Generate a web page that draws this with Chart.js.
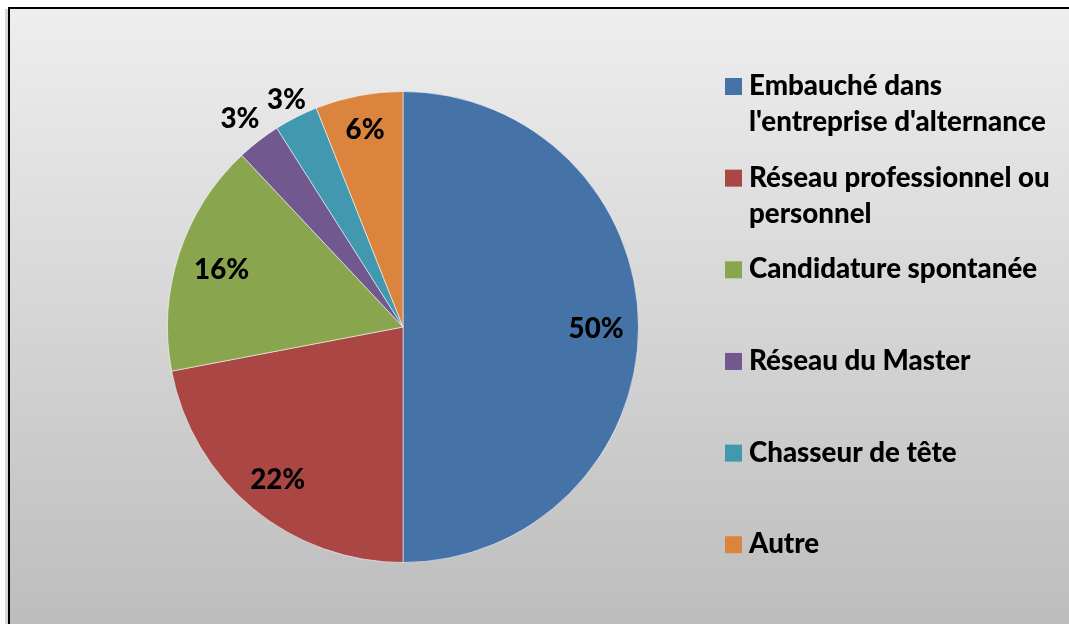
<!DOCTYPE html>
<html>
<head>
<meta charset="utf-8">
<script src="https://cdn.jsdelivr.net/npm/chart.js@4/dist/chart.umd.min.js"></script>
<style>
  html, body { margin: 0; padding: 0; background: #ffffff; }
  #wrap { width: 1069px; height: 624px; position: relative; }
</style>
</head>
<body>
<div id="wrap"><canvas id="c"></canvas></div>
<script>
// ---- data ----
const categories = [
  ["Embauché dans", "l'entreprise d'alternance"],
  ["Réseau professionnel ou", "personnel"],
  ["Candidature spontanée"],
  ["Réseau du Master"],
  ["Chasseur de tête"],
  ["Autre"]
];
const values = [50, 22, 16, 3, 3, 6];
const colors = ["#4572A7", "#AA4643", "#89A54E", "#71588F", "#4198AF", "#DB843D"];

const FONT_FAMILY = "Lato, 'Open Sans', sans-serif";
const FONT_WEIGHT = "900";
const TARGET_W = 297; // width of the longest legend line in the reference

function fitSize(ctx) {
  ctx.font = FONT_WEIGHT + " 100px " + FONT_FAMILY;
  const w = ctx.measureText("l'entreprise d'alternance").width;
  return 100 * TARGET_W / w;
}

const backgroundPlugin = {
  id: 'bgFrame',
  beforeDraw(chart) {
    const ctx = chart.ctx;
    const W = chart.width, H = chart.height;
    ctx.save();
    ctx.fillStyle = '#ffffff';
    ctx.fillRect(0, 0, W, H);
    ctx.fillStyle = '#d8d8d8';
    ctx.fillRect(5, 9, 3, H - 9);
    const g = ctx.createLinearGradient(0, 9, 0, H);
    g.addColorStop(0, '#eeeeee');
    g.addColorStop(1, '#bdbdbd');
    ctx.fillStyle = g;
    ctx.fillRect(10, 9, W - 10, H - 9);
    ctx.fillStyle = '#000000';
    ctx.fillRect(8, 7, 2, H - 7);
    ctx.fillRect(8, 7, W - 8, 2);
    ctx.restore();
  }
};

const labelFactors = [0.82, 0.835, 0.81, 1.13, 1.09, 0.86];

const labelsPlugin = {
  id: 'pieLabels',
  afterDatasetsDraw(chart) {
    const ctx = chart.ctx;
    const size = fitSize(ctx);
    const meta = chart.getDatasetMeta(0);
    ctx.save();
    ctx.font = FONT_WEIGHT + " " + size.toFixed(2) + "px " + FONT_FAMILY;
    ctx.fillStyle = '#000000';
    ctx.textAlign = 'center';
    ctx.textBaseline = 'middle';
    meta.data.forEach((arc, i) => {
      const p = arc.getProps(['x', 'y', 'startAngle', 'endAngle', 'outerRadius'], true);
      const mid = (p.startAngle + p.endAngle) / 2;
      const r = p.outerRadius * labelFactors[i];
      const x = p.x + Math.cos(mid) * r;
      const y = p.y + Math.sin(mid) * r + 2;
      ctx.fillText(values[i] + '%', x, y);
    });
    ctx.restore();
  }
};

const legendPlugin = {
  id: 'customLegend',
  afterDraw(chart) {
    const ctx = chart.ctx;
    const size = fitSize(ctx);
    ctx.save();
    ctx.font = FONT_WEIGHT + " " + size.toFixed(2) + "px " + FONT_FAMILY;
    ctx.textAlign = 'left';
    ctx.textBaseline = 'alphabetic';
    const boxX = 725, boxS = 17, textX = 749;
    const firstBase = 95, step = 91.65, lineH = 36;
    categories.forEach((lines, i) => {
      const base = firstBase + i * step;
      ctx.fillStyle = colors[i];
      ctx.fillRect(boxX, base - boxS, boxS, boxS);
      ctx.fillStyle = '#000000';
      lines.forEach((t, j) => ctx.fillText(t, textX, base + j * lineH));
    });
    ctx.restore();
  }
};

new Chart(document.getElementById('c'), {
  type: 'pie',
  data: {
    labels: categories.map(l => l.join(' ')),
    datasets: [{
      data: values,
      backgroundColor: colors,
      borderColor: 'rgba(255,255,255,0.55)',
      borderWidth: 1
    }]
  },
  options: {
    responsive: true,
    maintainAspectRatio: false,
    devicePixelRatio: 1,
    animation: false,
    layout: { padding: { top: 91, bottom: 61, left: 167, right: 430 } },
    plugins: {
      legend: { display: false },
      tooltip: { enabled: false }
    }
  },
  plugins: [backgroundPlugin, labelsPlugin, legendPlugin]
});
</script>
</body>
</html>
